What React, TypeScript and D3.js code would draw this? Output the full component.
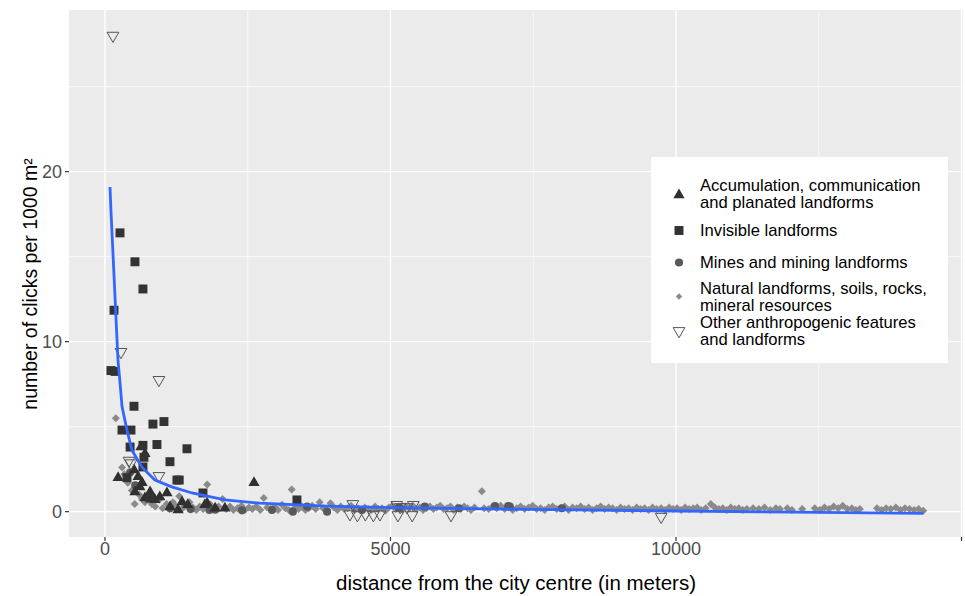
import React from 'react'
import * as d3 from 'd3'

// distance from centre (m), clicks per 1000 m2
const accumulation: [number, number][] = [
  [230, 2.0], [510, 2.45], [525, 1.15], [580, 2.05], [610, 1.45], [630, 3.8], [650, 1.7],
  [700, 3.4], [700, 0.8], [790, 1.15], [875, 0.7], [960, 0.86], [1085, 1.1], [1140, 0.28],
  [1280, 0.1], [1350, 0.57], [1450, 0.4], [1750, 0.4], [1790, 0.5], [1930, 0.2], [2100, 0.2],
  [2610, 1.7]
]
const invisible: [number, number][] = [
  [105, 8.3], [158, 11.85], [175, 8.25], [263, 16.4], [298, 4.8], [385, 2.0], [440, 3.8],
  [455, 4.8], [508, 6.2], [525, 14.7], [665, 13.1], [665, 2.63], [683, 3.2], [665, 3.9],
  [790, 0.8], [840, 5.15], [910, 3.95], [1033, 5.3], [1138, 2.94], [1260, 1.86], [1300, 1.86],
  [1436, 3.7], [1716, 1.1], [3362, 0.69]
]
const mines: [number, number][] = [
  [440, 2.3], [530, 1.55], [1140, 0.2], [1500, 0.15], [1830, 0.1], [1930, 0.12], [2400, 0.08],
  [2925, 0.1], [3290, 0.0], [3540, 0.3], [3890, 0.0], [4500, 0.1], [5150, 0.25], [5600, 0.3],
  [6200, 0.2], [6830, 0.33], [7060, 0.33], [7090, 0.3], [8000, 0.2]
]
const natural: [number, number][] = [
  [190, 5.5], [300, 2.6], [340, 2.2], [400, 1.7], [470, 1.25], [520, 0.45], [600, 1.0], [650, 0.75],
  [700, 0.55], [760, 0.95], [820, 0.45], [880, 0.3], [950, 0.7], [1010, 0.2], [1080, 0.45],
  [1130, 0.15], [1190, 0.55], [1240, 0.3], [1300, 0.9], [1360, 0.2], [1420, 0.35], [1480, 0.55],
  [1540, 0.25], [1600, 0.1], [1660, 0.3], [1720, 0.15], [1790, 1.6], [1850, 0.4], [1910, 0.2],
  [1990, 0.3], [2060, 0.75], [2120, 0.15], [2190, 0.3], [2250, 0.1], [2320, 0.2], [2390, 0.35],
  [2450, 0.1], [2520, 0.25], [2580, 0.15], [2650, 0.3], [2720, 0.1], [2780, 0.8], [2840, 0.25],
  [2900, 0.15], [2970, 0.3], [3030, 0.1], [3100, 0.4], [3160, 0.2], [3220, 0.1], [3270, 1.3],
  [3330, 0.25], [3390, 0.15], [3450, 0.3], [3510, 0.1], [3570, 0.2], [3630, 0.35], [3690, 0.15],
  [3760, 0.55], [3820, 0.2], [3880, 0.1], [3950, 0.5], [4010, 0.25], [4070, 0.1], [4130, 0.3],
  [4190, 0.15], [4250, 0.2], [4310, 0.35], [4370, 0.1], [4430, 0.2], [4490, 0.05], [4550, 0.25],
  [4610, 0.15], [4670, 0.1], [4730, 0.3], [4790, 0.15], [4850, 0.2], [4910, 0.05], [4970, 0.25],
  [5030, 0.35], [5090, 0.15], [5150, 0.2], [5210, 0.1], [5270, 0.3], [5330, 0.2], [5390, 0.35],
  [5450, 0.15], [5510, 0.25], [5570, 0.1], [5630, 0.2], [5690, 0.3], [5750, 0.15], [5810, 0.25],
  [5870, 0.35], [5930, 0.15], [5990, 0.2], [6050, 0.3], [6110, 0.1], [6170, 0.25], [6230, 0.15],
  [6290, 0.3], [6350, 0.2], [6410, 0.1], [6470, 0.25], [6600, 1.2], [6640, 0.2], [6720, 0.15],
  [6790, 0.3], [6860, 0.2], [6930, 0.35], [7000, 0.15], [7070, 0.25], [7140, 0.1], [7210, 0.2],
  [7280, 0.3], [7350, 0.15], [7420, 0.25], [7490, 0.35], [7560, 0.15], [7630, 0.2], [7700, 0.1],
  [7770, 0.25], [7840, 0.3], [7910, 0.15], [7980, 0.2], [8050, 0.3], [8120, 0.1], [8190, 0.25],
  [8260, 0.2], [8330, 0.3], [8400, 0.15], [8470, 0.25], [8540, 0.1], [8610, 0.2], [8680, 0.3],
  [8750, 0.15], [8820, 0.25], [8890, 0.2], [8960, 0.1], [9030, 0.25], [9100, 0.15], [9170, 0.2],
  [9240, 0.1], [9310, 0.25], [9380, 0.15], [9450, 0.2], [9520, 0.1], [9590, 0.25], [9660, 0.15],
  [9740, 0.2], [9810, 0.1], [9880, 0.25], [9950, 0.15], [10020, 0.2], [10090, 0.1], [10160, 0.25],
  [10230, 0.15], [10300, 0.2], [10370, 0.25], [10440, 0.1], [10520, 0.2], [10610, 0.45],
  [10680, 0.25], [10750, 0.15], [10820, 0.2], [10890, 0.1], [10960, 0.25], [11030, 0.15],
  [11100, 0.2], [11170, 0.1], [11240, 0.15], [11350, 0.2], [11450, 0.15], [11550, 0.25],
  [11650, 0.1], [11750, 0.2], [11820, 0.15], [11950, 0.2], [12030, 0.1], [12210, 0.15],
  [12430, 0.2], [12520, 0.1], [12600, 0.25], [12680, 0.15], [12760, 0.3], [12840, 0.2],
  [12920, 0.35], [13000, 0.15], [13080, 0.2], [13150, 0.1], [13220, 0.15], [13520, 0.2],
  [13600, 0.1], [13680, 0.2], [13760, 0.15], [13850, 0.25], [13930, 0.1], [14010, 0.2],
  [14090, 0.15], [14170, 0.1], [14250, 0.15], [14330, 0.05]
]
const other: [number, number][] = [
  [140, 28.0], [280, 9.4], [420, 3.0], [455, 2.85], [945, 7.75], [945, 2.1], [4290, -0.15],
  [4340, 0.45], [4420, -0.2], [4560, -0.15], [4700, -0.2], [4815, -0.15], [5110, 0.4],
  [5170, 0.27], [5290, 0.27], [5400, 0.4], [5130, -0.2], [5380, -0.2], [6060, -0.2], [9740, -0.3]
]
// smoothed trend
const smooth: [number, number][] = [
  [88, 19.1], [105, 17.7], [228, 8.9], [263, 7.6], [298, 6.2], [385, 4.8], [475, 3.6], [650, 2.6],
  [875, 1.86], [1170, 1.46], [1525, 1.1], [2100, 0.69], [2710, 0.5], [3890, 0.33], [5040, 0.24],
  [7000, 0.15], [10000, 0.04], [12000, -0.03], [14330, -0.1]
]
const xMajor = [0, 5000, 10000, 15000]
const xMinor = [2500, 7500, 12500]
const yMajor = [0, 10, 20]
const yMinor = [5, 15, 25]
const legendLabels = [
  ['Accumulation, communication', 'and planated landforms'],
  ['Invisible landforms'],
  ['Mines and mining landforms'],
  ['Natural landforms, soils, rocks,', 'mineral resources'],
  ['Other anthropogenic features', 'and landforms']
]

const W = 965, H = 596
const left = 69, right = 963, top = 10, bottom = 537
const font = 'Liberation Sans, Arial, Helvetica, sans-serif'

const x = d3.scaleLinear().domain([-630, 15026]).range([left, right])
const y = d3.scaleLinear().domain([-1.49, 29.51]).range([bottom, top])

const triUp = d3.symbol().type(d3.symbolTriangle).size(55)()
const sq = d3.symbol().type(d3.symbolSquare).size(80)()
const circ = d3.symbol().type(d3.symbolCircle).size(52)()
const diam = d3.symbol().type(d3.symbolSquare).size(32)()
const diamSmall = d3.symbol().type(d3.symbolSquare).size(20)()
const triOpen = d3.symbol().type(d3.symbolTriangle).size(60)()

const styles = {
  acc: { d: triUp, fill: '#303030', stroke: 'none', rot: 0 },
  inv: { d: sq, fill: '#333333', stroke: 'none', rot: 0 },
  min: { d: circ, fill: '#595959', stroke: 'none', rot: 0 },
  nat: { d: diam, fill: '#8a8a8a', stroke: 'none', rot: 45 },
  oth: { d: triOpen, fill: 'none', stroke: '#555555', rot: 180 }
}

function Marks({ data, s }: { data: [number, number][]; s: any }) {
  return (
    <g>
      {data.map((p, i) => (
        <path key={i} d={s.d} fill={s.fill} stroke={s.stroke} strokeWidth={1}
          transform={`translate(${x(p[0])},${y(p[1])}) rotate(${s.rot})`} />
      ))}
    </g>
  )
}

export default function App() {
  const line = d3.line<[number, number]>().x(d => x(d[0])).y(d => y(d[1]))
  const legendKeys = [
    { ...styles.acc, cy: 195, ty: 185.5 },
    { ...styles.inv, cy: 230.5, ty: 230.5 },
    { ...styles.min, cy: 262.5, ty: 262.5 },
    { ...styles.nat, d: diamSmall, cy: 296.5, ty: 288.5 },
    { ...styles.oth, cy: 331, ty: 322.5 }
  ]
  return (
    <svg width={W} height={H} style={{ position: 'absolute', left: 0, top: 0, background: '#fff' }}
      fontFamily={font}>
      <defs>
        <clipPath id="panel"><rect x={left} y={top} width={right - left} height={bottom - top} /></clipPath>
      </defs>
      <rect x={left} y={top} width={right - left} height={bottom - top} fill="#ebebeb" />
      {xMinor.map(t => <line key={'xm' + t} x1={x(t)} x2={x(t)} y1={top} y2={bottom} stroke="#fff" strokeWidth={0.7} />)}
      {yMinor.map(t => <line key={'ym' + t} x1={left} x2={right} y1={y(t)} y2={y(t)} stroke="#fff" strokeWidth={0.7} />)}
      {xMajor.map(t => <line key={'xM' + t} x1={x(t)} x2={x(t)} y1={top} y2={bottom} stroke="#fff" strokeWidth={1.4} />)}
      {yMajor.map(t => <line key={'yM' + t} x1={left} x2={right} y1={y(t)} y2={y(t)} stroke="#fff" strokeWidth={1.4} />)}

      <g clipPath="url(#panel)">
        <Marks data={natural} s={styles.nat} />
        <Marks data={mines} s={styles.min} />
        <Marks data={accumulation} s={styles.acc} />
        <Marks data={invisible} s={styles.inv} />
        <Marks data={other} s={styles.oth} />
        <path d={line(smooth) || ''} fill="none" stroke="#3366ff" strokeWidth={2.8} />
      </g>

      {/* axes */}
      {xMajor.map(t => (
        <g key={'xt' + t}>
          <line x1={x(t)} x2={x(t)} y1={bottom} y2={bottom + 4} stroke="#333" strokeWidth={1.2} />
          {x(t) < W - 25 && (
            <text x={x(t)} y={bottom + 18} textAnchor="middle" fontSize={18} fill="#4d4d4d">{t}</text>
          )}
        </g>
      ))}
      {yMajor.map(t => (
        <g key={'yt' + t}>
          <line x1={left - 4} x2={left} y1={y(t)} y2={y(t)} stroke="#333" strokeWidth={1.2} />
          <text x={left - 7} y={y(t)} dy="0.35em" textAnchor="end" fontSize={18} fill="#4d4d4d">{t}</text>
        </g>
      ))}
      <text x={(left + right) / 2} y={590} textAnchor="middle" fontSize={20.5} fill="#000">
        distance from the city centre (in meters)
      </text>
      <text transform="translate(37,284) rotate(-90)" textAnchor="middle" fontSize={19.5} fill="#000">
        number of clicks per 1000 m²
      </text>

      {/* legend */}
      <rect x={651} y={157} width={297} height={206} fill="#fff" />
      {legendKeys.map((k, i) => (
        <g key={'lg' + i}>
          <path d={k.d} fill={k.fill} stroke={k.stroke} strokeWidth={1}
            transform={`translate(679,${k.cy}) rotate(${k.rot})`} />
          <text x={700} y={k.ty} fontSize={16.6} fill="#000">
            {legendLabels[i].map((s, j) => (
              <tspan key={j} x={700} dy={j === 0 ? '0.35em' : 16.8}>{s}</tspan>
            ))}
          </text>
        </g>
      ))}
    </svg>
  )
}
